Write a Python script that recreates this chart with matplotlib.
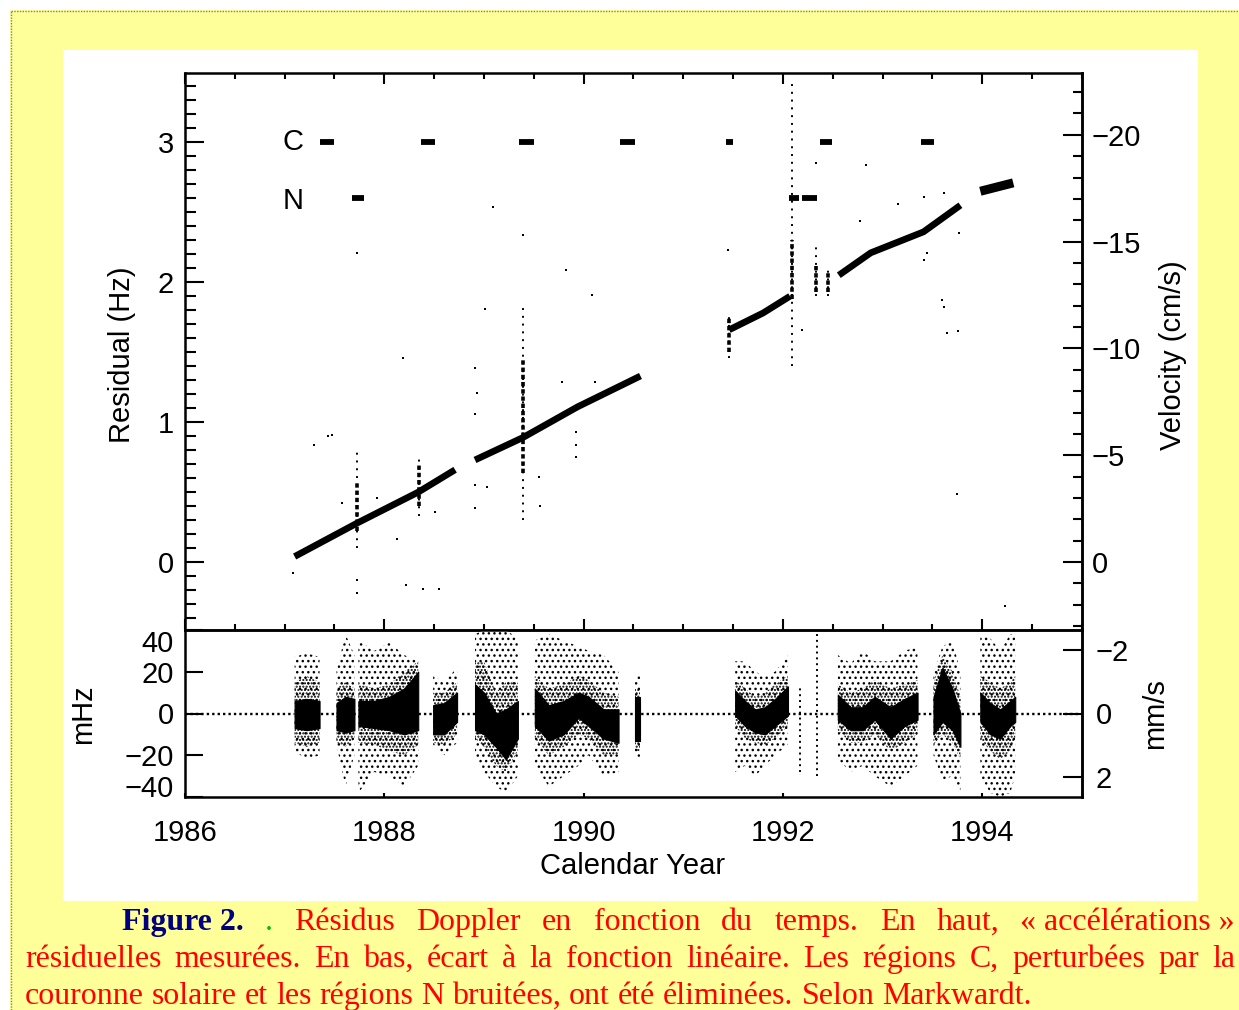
import matplotlib
matplotlib.use("Agg")
import matplotlib.pyplot as plt
from matplotlib.patches import Rectangle
from matplotlib.lines import Line2D
from matplotlib.ticker import MultipleLocator, FixedLocator, NullLocator
from matplotlib.font_manager import FontProperties

# ---------------------------------------------------------------- data
# Top panel: continuous residual bands (calendar year, residual in Hz)
band1_year = [1987.10, 1987.73, 1988.34, 1988.71]
band1_hz = [0.04, 0.28, 0.50, 0.66]
band2_year = [1988.91, 1989.39, 1989.94, 1990.57]
band2_hz = [0.73, 0.89, 1.11, 1.33]
band3_year = [1991.46, 1991.80, 1992.07]
band3_hz = [1.66, 1.78, 1.90]
band4_year = [1992.56, 1992.88, 1993.41, 1993.78]
band4_hz = [2.05, 2.21, 2.36, 2.55]
band5_year = [1993.98, 1994.31]
band5_hz = [2.65, 2.71]

# Top panel: noisy vertical streaks (year, sparse range, dense range)
spike_year = [1987.73, 1988.35, 1989.39, 1991.46, 1992.09, 1992.33, 1992.45]
spike_sparse_lo = [0.10, 0.33, 0.30, 1.46, 1.40, 1.90, 1.90]
spike_sparse_hi = [0.80, 0.75, 1.82, 1.78, 3.45, 2.25, 2.12]
spike_dense_lo = [0.22, 0.40, 0.64, 1.50, 1.88, 1.93, 1.93]
spike_dense_hi = [0.58, 0.70, 1.45, 1.75, 2.30, 2.12, 2.08]

# Top panel: isolated outlying points
out_year = [1987.29, 1987.43, 1987.47, 1987.08, 1987.73, 1987.73, 1988.13, 1988.22,
            1988.39, 1988.55, 1987.58, 1987.93, 1988.51, 1989.01, 1988.91, 1988.93,
            1988.91, 1988.91, 1988.91, 1989.03, 1989.55, 1989.56, 1989.92, 1989.92,
            1989.92, 1990.11, 1989.78, 1989.82, 1990.08, 1989.39, 1989.09, 1987.73,
            1991.45, 1992.83, 1992.33, 1992.77, 1993.15, 1993.62, 1993.41, 1993.41,
            1993.44, 1993.77, 1993.60, 1993.62, 1993.65, 1993.76, 1992.19, 1988.19,
            1993.75, 1994.23]
out_hz = [0.84, 0.90, 0.905, -0.08, -0.13, -0.22, 0.165, -0.16,
          -0.19, -0.19, 0.42, 0.46, 0.36, 1.81, 1.39, 1.21,
          1.06, 0.39, 0.55, 0.54, 0.61, 0.40, 0.93, 0.84,
          0.75, 1.29, 1.29, 2.09, 1.91, 2.34, 2.54, 2.21,
          2.23, 2.84, 2.85, 2.44, 2.56, 2.64, 2.61, 2.16,
          2.21, 2.35, 1.87, 1.82, 1.64, 1.65, 1.66, 1.46,
          0.49, -0.31]

# Excluded regions: C (solar corona) and N (noisy)
c_start = [1987.35, 1988.37, 1989.35, 1990.36, 1991.43, 1992.37, 1993.38]
c_end = [1987.50, 1988.51, 1989.50, 1990.52, 1991.50, 1992.49, 1993.52]
n_start = [1987.68, 1992.06, 1992.19]
n_end = [1987.80, 1992.16, 1992.34]
c_level_hz = 3.0
n_level_hz = 2.6

# Bottom panel: deviation from the linear fit (mHz); per chunk the dense
# core range, a medium-density range and the sparse outer range
dev_year = [
    [1987.10, 1987.22, 1987.35],
    [1987.52, 1987.61, 1987.70],
    [1987.74, 1987.90, 1988.05, 1988.20, 1988.34],
    [1988.49, 1988.60, 1988.73],
    [1988.91, 1989.00, 1989.12, 1989.22, 1989.34],
    [1989.51, 1989.65, 1989.80, 1989.95, 1990.05, 1990.20, 1990.35],
    [1990.52, 1990.57],
    [1991.52, 1991.62, 1991.72, 1991.82, 1991.92, 1992.05],
    [1992.55, 1992.68, 1992.80, 1992.92, 1993.08, 1993.22, 1993.35],
    [1993.51, 1993.60, 1993.70, 1993.78],
    [1993.98, 1994.08, 1994.18, 1994.28, 1994.33],
]
dev_core_hi = [
    [6, 7, 6], [5, 8, 7], [6, 6, 8, 12, 20], [4, 5, 10], [14, 10, 0, 2, 6],
    [12, 4, 6, 10, 8, 2, 2], [8, 8], [11, 6, 2, 3, 7, 13],
    [9, 3, 3, 8, 3, 7, 10], [8, 22, 12, 0], [10, 5, 2, 6, 8],
]
dev_core_lo = [
    [-7, -8, -7], [-8, -9, -8], [-6, -7, -8, -10, -8], [-10, -10, -4],
    [-8, -10, -16, -22, -12], [-6, -13, -10, -2, -6, -12, -14], [-13, -13],
    [-1, -6, -9, -10, -6, -1], [-3, -8, -8, -3, -12, -6, -3],
    [-10, -4, -8, -16], [-4, -10, -12, -6, -4],
]
dev_mid_hi = [
    [15, 18, 15], [12, 15, 12], [14, 12, 14, 20, 25], [10, 10, 15],
    [25, 25, 10, 15, 15], [18, 12, 14, 18, 16, 10, 8], [12, 12],
    [16, 12, 8, 10, 14, 18], [14, 10, 12, 16, 12, 14, 16],
    [15, 28, 20, 8], [18, 15, 12, 15, 18],
]
dev_mid_lo = [
    [-14, -16, -14], [-14, -16, -12], [-14, -15, -18, -20, -15],
    [-14, -15, -10], [-12, -16, -25, -28, -18],
    [-12, -20, -16, -10, -12, -20, -20], [-18, -18],
    [-6, -12, -14, -15, -12, -6], [-8, -14, -14, -10, -18, -14, -10],
    [-15, -10, -14, -22], [-12, -18, -22, -18, -12],
]
dev_out_hi = [
    [27, 29, 27], [20, 38, 28], [35, 30, 34, 28, 25], [18, 15, 22],
    [38, 40, 40, 40, 36], [35, 38, 35, 32, 30, 28, 20], [18, 18],
    [25, 25, 20, 18, 20, 28], [28, 24, 30, 25, 25, 30, 32],
    [20, 32, 35, 20], [38, 36, 30, 38, 38],
]
dev_out_lo = [
    [-18, -22, -20], [-15, -35, -20], [-38, -28, -30, -35, -25],
    [-15, -20, -14], [-20, -28, -35, -38, -30],
    [-25, -35, -30, -25, -20, -30, -28], [-22, -22],
    [-28, -25, -30, -25, -20, -15], [-22, -28, -25, -30, -35, -30, -25],
    [-20, -32, -30, -38], [-30, -38, -40, -38, -30],
]
streak_year = [1992.17, 1992.345]
streak_lo = [-28, -30]
streak_hi = [13, 38]

year_ticks = [1986, 1988, 1990, 1992, 1994]
hz_ticks = [0, 1, 2, 3]
vel_ticks = [-20, -15, -10, -5, 0]
mhz_ticks = [-40, -20, 0, 20, 40]
mms_ticks = [-2, 0, 2]

HZ_TO_CMS = 6.55        # velocity (cm/s) per Hz of residual
MHZ_TO_MMS = 0.0655     # velocity (mm/s) per mHz

caption_line1 = [("Figure 2.", "#000080", "bold"), (".", "#00C000", "normal")] + \
    [(w, "#FF0000", "normal") for w in
     "Résidus Doppler en fonction du temps. En haut,".split()] + \
    [("«\u00a0accélérations\u00a0»", "#FF0000", "normal")]
caption_line2 = [(w, "#FF0000", "normal") for w in
                 "résiduelles mesurées. En bas, écart à la fonction linéaire. "
                 "Les régions C, perturbées par la".split()]
caption_line3 = [(w, "#FF0000", "normal") for w in
                 "couronne solaire et les régions N bruitées, ont été éliminées. "
                 "Selon Markwardt.".split()]

# ---------------------------------------------------------------- figure
W, H = 1239, 1010
plt.rcParams["font.family"] = ["Liberation Sans", "DejaVu Sans"]
plt.rcParams["hatch.linewidth"] = 1.0
FS = 21

fig = plt.figure(figsize=(W / 100, H / 100), dpi=100, facecolor="#FFFF99")


def fx(x):
    return x / W


def fy(y):
    return 1 - y / H


# page frame
fig.add_artist(Rectangle((0, 0), fx(10), 1, transform=fig.transFigure,
                         facecolor="white", edgecolor="none", zorder=0))
fig.add_artist(Rectangle((0, fy(10)), 1, 10 / H, transform=fig.transFigure,
                         facecolor="white", edgecolor="none", zorder=0))
fig.add_artist(Line2D([fx(10.5), fx(10.5)], [0, fy(10.5)], transform=fig.transFigure,
                      color="#7f7f7f", lw=1, ls=(0, (1, 1)), zorder=1))
fig.add_artist(Line2D([fx(10.5), 1], [fy(10.5), fy(10.5)], transform=fig.transFigure,
                      color="#7f7f7f", lw=1, ls=(0, (1, 1)), zorder=1))
fig.add_artist(Rectangle((fx(63), fy(901)), (1198 - 63) / W, (901 - 50) / H,
                         transform=fig.transFigure, facecolor="white",
                         edgecolor="none", zorder=0))

L, R = 185, 1082
ax = fig.add_axes([fx(L), fy(630), (R - L) / W, (630 - 73) / H])
ax2 = fig.add_axes([fx(L), fy(797), (R - L) / W, (797 - 630) / H])
for a in (ax, ax2):
    a.set_facecolor("none")
    for s in a.spines.values():
        s.set_linewidth(1.8)
    a.set_xlim(1986, 1995)

# ---------------- top panel
ax.set_ylim(-0.485, 3.495)
for yy, hh, lw in [(band1_year, band1_hz, 4.8), (band2_year, band2_hz, 4.8),
                   (band3_year, band3_hz, 4.8), (band4_year, band4_hz, 4.8),
                   (band5_year, band5_hz, 6.5)]:
    ax.plot(yy, hh, color="black", lw=lw, solid_capstyle="butt", zorder=3)
ax.vlines(spike_year, spike_sparse_lo, spike_sparse_hi, color="black",
          lw=1.4, linestyles=[(0, (1, 3))], zorder=3)
ax.vlines(spike_year, spike_dense_lo, spike_dense_hi, color="black",
          lw=2.6, linestyles=[(0, (1.2, 0.8))], zorder=3)
ax.scatter(out_year, out_hz, s=3, color="black", marker="s", lw=0, zorder=3)
ax.hlines([c_level_hz] * len(c_start), c_start, c_end, color="black", lw=4.2)
ax.hlines([n_level_hz] * len(n_start), n_start, n_end, color="black", lw=4.2)
ax.text(1987.08, c_level_hz, "C", fontsize=FS, ha="center", va="center")
ax.text(1987.08, n_level_hz - 0.02, "N", fontsize=FS, ha="center", va="center")

ax.xaxis.set_major_locator(MultipleLocator(2))
ax.xaxis.set_minor_locator(MultipleLocator(0.5))
ax.tick_params(axis="x", which="major", direction="in", top=True, bottom=True,
               length=8, width=1.5, labelbottom=False)
ax.tick_params(axis="x", which="minor", direction="in", top=True, bottom=True,
               length=4.5, width=1.5)
ax.yaxis.set_major_locator(FixedLocator(hz_ticks))
ax.yaxis.set_minor_locator(MultipleLocator(0.1))
ax.tick_params(axis="y", which="major", direction="in", right=False, length=14,
               width=1.5, labelsize=FS, pad=8)
ax.tick_params(axis="y", which="minor", direction="in", right=False, length=8,
               width=1.5)

sec = ax.secondary_yaxis("right", functions=(lambda h: -HZ_TO_CMS * h,
                                             lambda v: -v / HZ_TO_CMS))
sec.yaxis.set_major_locator(FixedLocator(vel_ticks))
sec.yaxis.set_minor_locator(MultipleLocator(1))
sec.tick_params(which="major", direction="in", length=14, width=1.5,
                labelsize=FS, pad=7)
sec.tick_params(which="minor", direction="in", length=6.5, width=1.5)
sec.spines["right"].set_linewidth(1.8)

# ---------------- bottom panel
ax2.set_ylim(-40, 40)
ax2.axhline(0, color="black", lw=1.7, ls=(0, (1, 1.3)), zorder=1)
for yrs, chi, clo, mhi, mlo, ohi, olo in zip(dev_year, dev_core_hi, dev_core_lo,
                                             dev_mid_hi, dev_mid_lo,
                                             dev_out_hi, dev_out_lo):
    ax2.fill_between(yrs, olo, ohi, facecolor="white", edgecolor="black",
                     hatch="...", lw=0, zorder=2)
    ax2.fill_between(yrs, mlo, mhi, facecolor="none", edgecolor="black",
                     hatch=".....", lw=0, zorder=2.5)
    ax2.fill_between(yrs, clo, chi, facecolor="black", edgecolor="black",
                     lw=0.8, zorder=3)
ax2.vlines(streak_year, streak_lo, streak_hi, color="black", lw=1.4,
           linestyles=[(0, (1, 2))], zorder=3)

ax2.xaxis.set_major_locator(FixedLocator(year_ticks))
ax2.xaxis.set_minor_locator(NullLocator())
ax2.tick_params(axis="x", which="major", direction="in", top=False, length=3,
                width=1.5, labelsize=FS, pad=16)
ax2.set_yticks(mhz_ticks)
ax2.tick_params(axis="y", which="major", direction="in", right=False, length=13,
                width=1.5, labelsize=FS, pad=8)
ylabels = ax2.get_yticklabels()
ylabels[-1].set_verticalalignment("top")
ylabels[0].set_verticalalignment("baseline")
sec2 = ax2.secondary_yaxis("right", functions=(lambda m: -MHZ_TO_MMS * m,
                                               lambda v: -v / MHZ_TO_MMS))
sec2.yaxis.set_major_locator(FixedLocator(mms_ticks))
sec2.yaxis.set_minor_locator(NullLocator())
sec2.tick_params(which="major", direction="in", length=14, width=1.5,
                 labelsize=FS, pad=10)
sec2.spines["right"].set_linewidth(1.8)

# ---------------- axis titles
fig.text(fx(122), fy(355), "Residual (Hz)", rotation=90, ha="center",
         va="center", fontsize=FS)
fig.text(fx(1173), fy(355), "Velocity (cm/s)", rotation=90, ha="center",
         va="center", fontsize=FS)
fig.text(fx(83), fy(714), "mHz", rotation=90, ha="center", va="center",
         fontsize=FS)
fig.text(fx(1155), fy(714), "mm/s", rotation=90, ha="center", va="center",
         fontsize=FS)
fig.text(fx(633), fy(866), "Calendar Year", ha="center", va="center",
         fontsize=FS)

# ---------------- caption (justified)
renderer = fig.canvas.get_renderer()


def text_w(s, fp):
    return renderer.get_text_width_height_descent(s, fp, ismath=False)[0]


def fprop(size, weight):
    return FontProperties(family=["Liberation Serif", "DejaVu Serif"],
                          size=size, weight=weight)


base = 20
nat = sum(text_w(w, fprop(base, wt)) for w, c, wt in caption_line3)
sp = text_w("x x", fprop(base, "normal")) - text_w("xx", fprop(base, "normal"))
nat += sp * (len(caption_line3) - 1)
cap_size = base * (1008 / nat)


def place_line(words, x_left, x_right, y_base):
    fps = [fprop(cap_size, wt) for _, _, wt in words]
    widths = [text_w(w, fp) for (w, _, _), fp in zip(words, fps)]
    if x_right is None:
        gap = text_w("x x", fps[-1]) - text_w("xx", fps[-1])
    else:
        gap = (x_right - x_left - sum(widths)) / (len(words) - 1)
    x = x_left
    for (w, c, _), fp, wd in zip(words, fps, widths):
        fig.text(fx(x), fy(y_base), w, color=c, fontproperties=fp,
                 ha="left", va="baseline")
        x += wd + gap


place_line(caption_line1, 122, 1235, 930)
place_line(caption_line2, 25, 1235, 967)
place_line(caption_line3, 25, None, 1004)

fig.savefig("out.png", dpi=100, facecolor=fig.get_facecolor())
